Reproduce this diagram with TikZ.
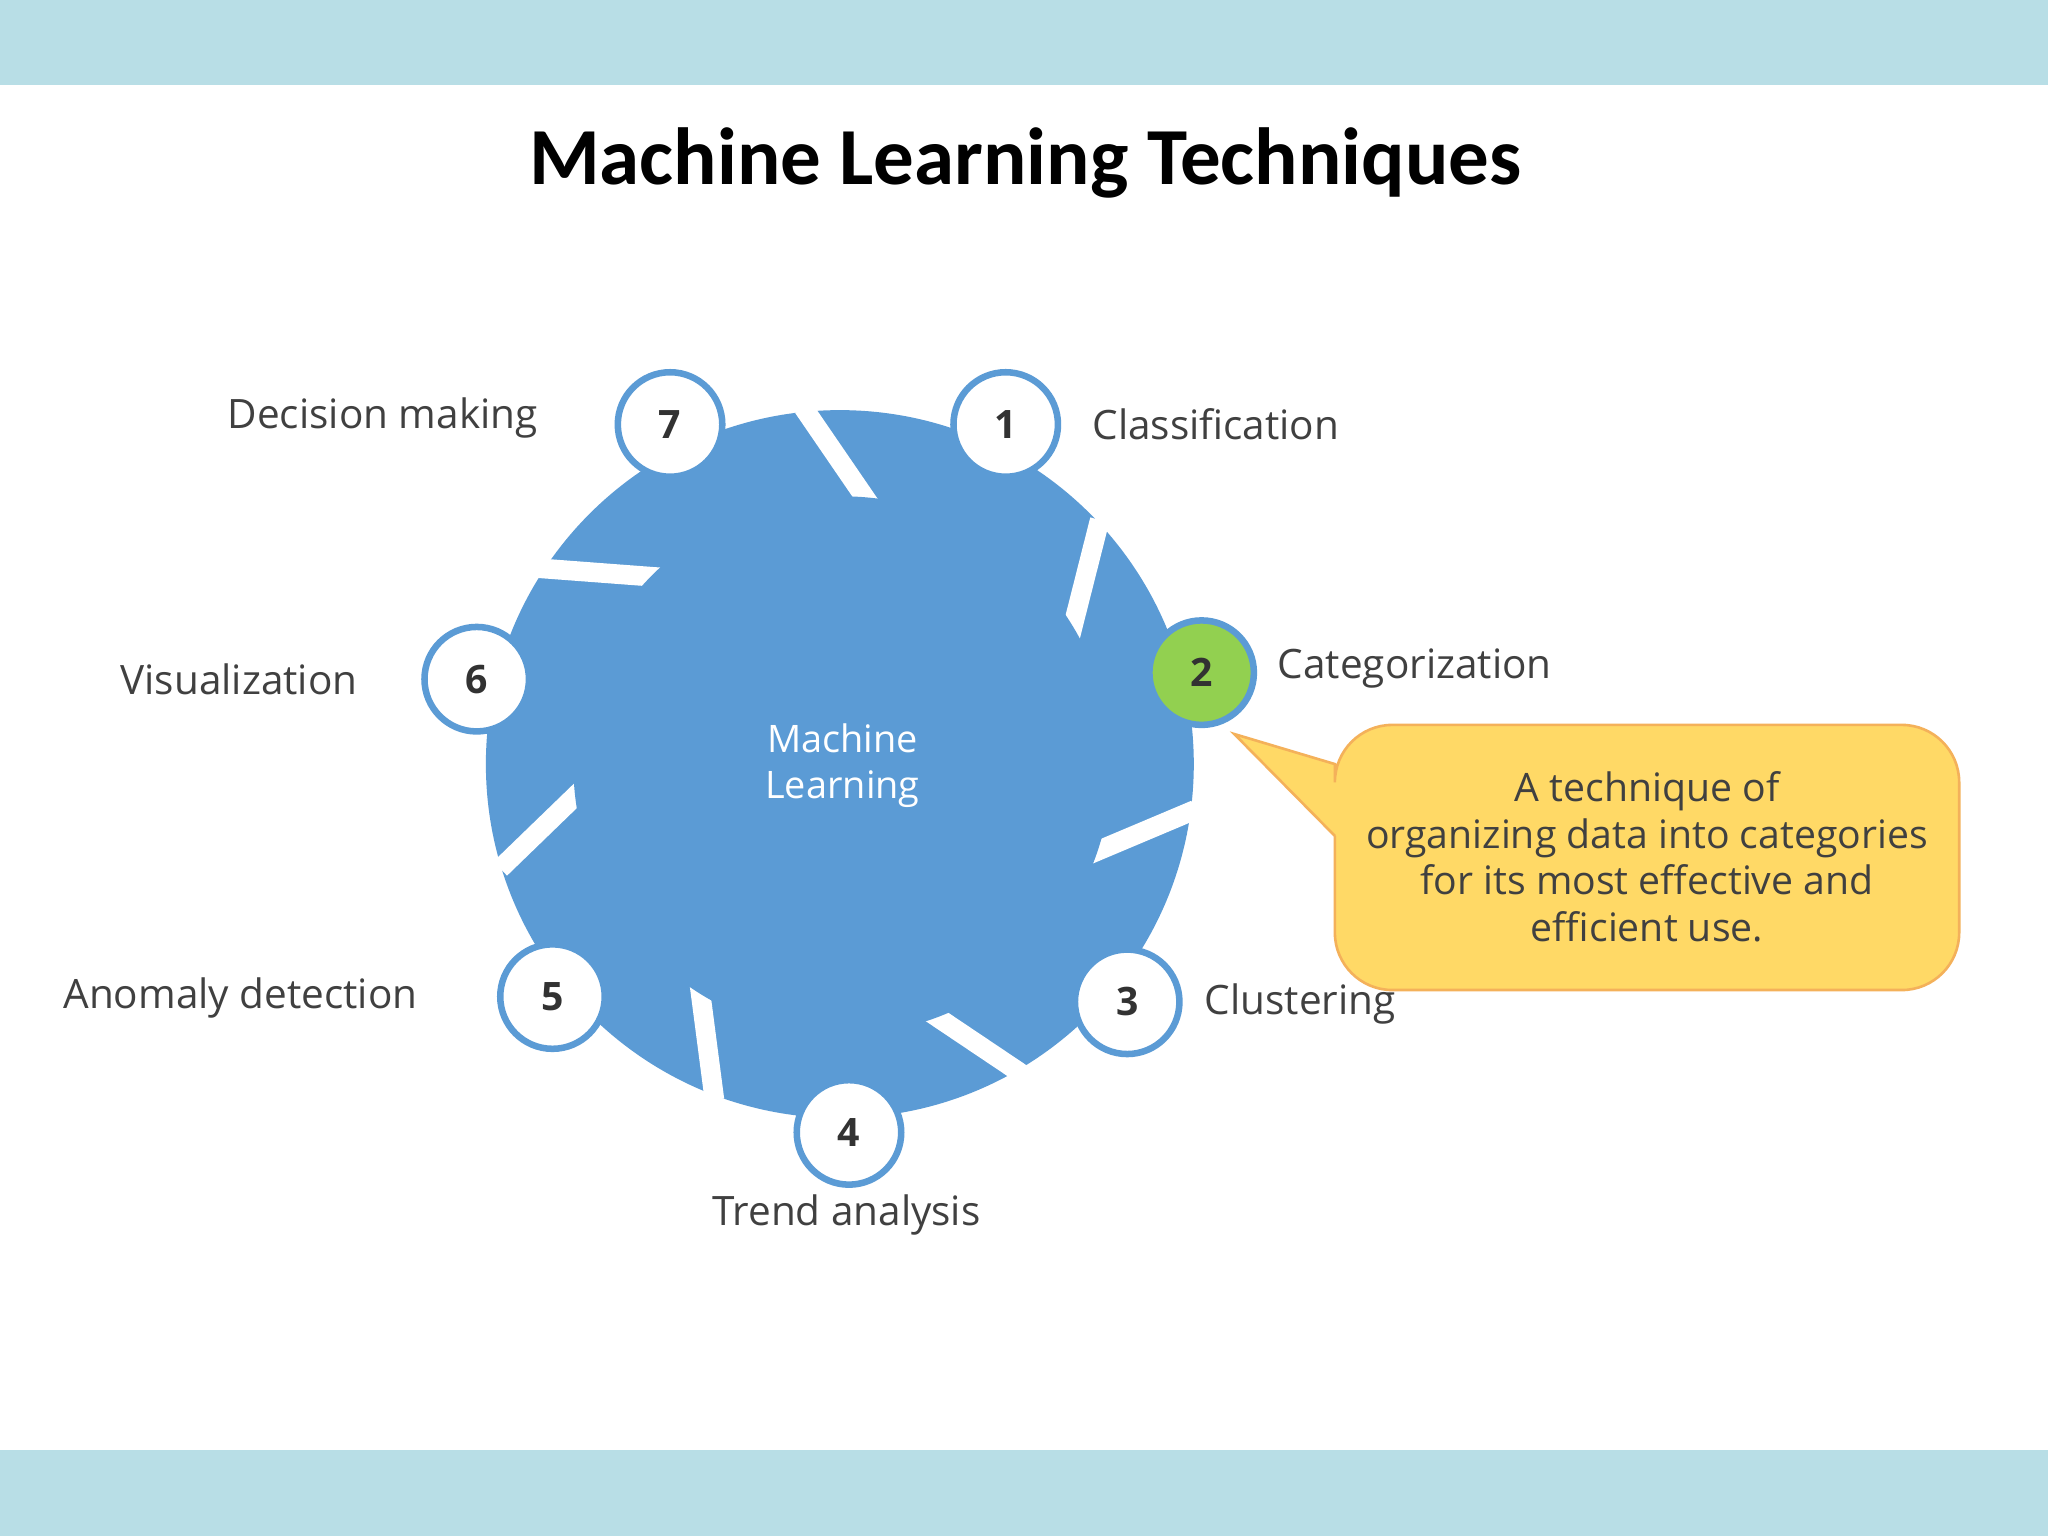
\documentclass[tikz,border=0pt]{standalone}
\usepackage{fontspec}
\setmainfont{Open Sans}
\newfontfamily\titlefont{Carlito}
\begin{document}
\begin{tikzpicture}[x=0.5pt,y=-0.5pt,
  band/.style={fill=bandblue,draw=none},
  sep/.style={draw=white,line width=7.5pt,line join=miter},
  num/.style={circle,draw=ringblue,line width=2.5pt,fill=white,minimum size=40pt,inner sep=0pt,font=\bfseries\fontsize{15}{18}\selectfont,text=darktext},
  lab/.style={font=\fontsize{15.5}{19}\selectfont,text=labgray,inner sep=0pt}]
\definecolor{bandblue}{RGB}{184,222,230}
\definecolor{mlblue}{RGB}{91,155,213}
\definecolor{ringblue}{RGB}{91,155,213}
\definecolor{darktext}{RGB}{50,50,50}
\definecolor{labgray}{RGB}{64,64,64}
\definecolor{callfill}{RGB}{255,217,102}
\definecolor{calldraw}{RGB}{244,177,90}
\definecolor{green2}{RGB}{146,208,80}
\useasboundingbox (0,0) rectangle (1568,1176);
\fill[white] (0,0) rectangle (1568,1176);
\fill[bandblue] (0,0) rectangle (1568,65);
\fill[bandblue] (0,1110) rectangle (1568,1176);
\node[font=\titlefont\bfseries\fontsize{31}{36}\selectfont] (title) at (785,125) {Machine Learning Techniques};
% wheel
\fill[mlblue] (643,585) circle (271);
\draw[sep] (615,312) -- (665,385) -- (633,470);
\draw[sep] (842,398) -- (820,485) -- (730,512);
\draw[sep] (915,620) -- (832,655) -- (755,603);
\draw[sep] (782,822) -- (712,775) -- (705,685);
\draw[sep] (547,842) -- (535,750) -- (600,690);
\draw[sep] (383,665) -- (445,605) -- (530,618);
\draw[sep] (412,435) -- (505,442) -- (548,520);
\fill[white] (643,585) circle (120);
\node[circle,fill=mlblue,minimum size=206pt*0.5*2,inner sep=0pt,text=white,align=center,font=\fontsize{14.5}{17.5}\selectfont] (ml) at (645,586) {Machine\\Learning};
% numbers
\node[num] (n7) at (513,325) {7};
\node[num] (n1) at (770,325) {1};
\node[num,fill=green2] (n2) at (920,515) {2};
\node[num] (n3) at (863,767) {3};
\node[num] (n4) at (650,867) {4};
\node[num] (n5) at (423,763) {5};
\node[num] (n6) at (365,520) {6};
% labels
\node[lab,anchor=east] (l7) at (412,320) {Decision making};
\node[lab,anchor=west] (l1) at (836,325) {Classification};
\node[lab,anchor=west] (l2) at (978,512) {Categorization};
\node[lab,anchor=west] (l3) at (922,769) {Clustering};
\node[lab] (l4) at (648,930) {Trend analysis};
\node[lab,anchor=east] (l5) at (320,764) {Anomaly detection};
\node[lab,anchor=east] (l6) at (274,520) {Visualization};
% callout
\coordinate (tip) at (945,562);
\filldraw[fill=callfill,draw=calldraw,line width=1pt]
  (1022,640) [sharp corners]-- (tip) -- (1022,585) [rounded corners=22]-- (1022,555) -- (1500,555) -- (1500,758) -- (1022,758) -- (1022,640);
\node[font=\fontsize{15}{17.8}\selectfont,text=labgray,align=center] (desc) at (1261,656)
 {A technique of\\organizing data into categories\\for its most effective and\\efficient use.};
\end{tikzpicture}
\end{document}
